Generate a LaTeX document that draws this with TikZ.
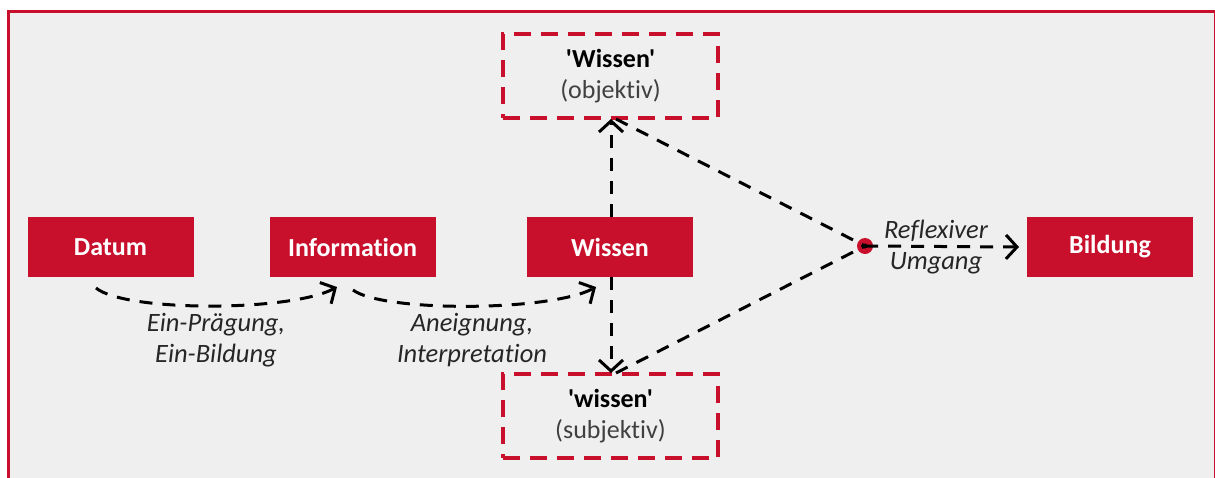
\documentclass[tikz,border=0pt]{standalone}
\usepackage{fontspec}
\setmainfont{Carlito}
\newfontfamily\calfont{Carlito}[Ligatures={NoCommon}]
\usetikzlibrary{arrows.meta}
\definecolor{hsred}{RGB}{200,16,44}
\definecolor{bggray}{RGB}{239,239,239}
\definecolor{txtgray}{RGB}{38,38,38}
\definecolor{subgray}{RGB}{64,64,64}
\tikzset{
  redbox/.style={fill=hsred, draw=none, minimum width=166pt, minimum height=60pt, inner sep=0pt,
    text=white, font=\calfont\fontsize{26}{30}\selectfont\bfseries},
  dashbox/.style={draw=hsred, line width=3.5pt, dash pattern=on 17pt off 10pt, minimum width=215pt,
    minimum height=84pt, inner sep=0pt, align=center, font=\calfont\fontsize{26}{31}\selectfont},
  conn/.style={draw=black, line width=3pt, dash pattern=on 13pt off 10pt},
  tip/.style={-{Straight Barb[length=11pt,width=24pt,line width=3pt]}},
  lbl/.style={text=txtgray, align=center, font=\calfont\fontsize{26.5}{31}\selectfont\itshape, inner sep=0pt}
}
\begin{document}
\begin{tikzpicture}[x=1pt,y=-1pt]
\useasboundingbox (0,0) rectangle (1215,477);
\fill[white] (0,0) rectangle (1215,477);
\draw[hsred, line width=3.3pt, fill=bggray] (8.6,11.6) rectangle (1216,520);

\node[redbox] (datum) at (110.5,247) {Datum};
\node[redbox] (info) at (352.5,247) {Information};
\node[redbox] (wissen) at (610,247) {Wissen};
\node[redbox] (bildung) at (1110,247) {Bildung};

\node[dashbox] (obj) at (610.5,76) {\textbf{'Wissen'}\\\textcolor{subgray}{(objektiv)}};
\node[dashbox] (subj) at (610.5,416) {\textbf{'wissen'}\\\textcolor{subgray}{(subjektiv)}};

\coordinate (dotc) at (865,246);
\fill[hsred] (dotc) circle (8pt);

% curved arrows
\coordinate (c1s) at (96,288);
\coordinate (c1e) at (337,287);
\coordinate (c2s) at (353,290);
\coordinate (c2e) at (596,287);
\draw[conn, tip] (c1s) .. controls (125,312) and (290,312) .. (c1e);
\draw[conn, tip] (c2s) .. controls (382,312) and (549,312) .. (c2e);

% vertical arrows
\draw[conn, tip] (wissen.north -| 611,0) -- (611,119);
\draw[conn, tip] (wissen.south -| 611,0) -- (611,373);

% to reflexive point
\draw[conn] (616,119) -- (dotc);
\draw[conn] (616,373) -- (dotc);
\fill[black] (dotc) circle (2.5pt);
\draw[conn, tip] (dotc) -- (bildung.west -| 1019,0);

\node[lbl] (l1) at (216,340) {Ein-Prägung,\\Ein-Bildung};
\node[lbl] (l2) at (472,340) {Aneignung,\\Interpretation};
\node[lbl] (l3) at (936,247) {Reflexiver\\Umgang};
\end{tikzpicture}
\end{document}
